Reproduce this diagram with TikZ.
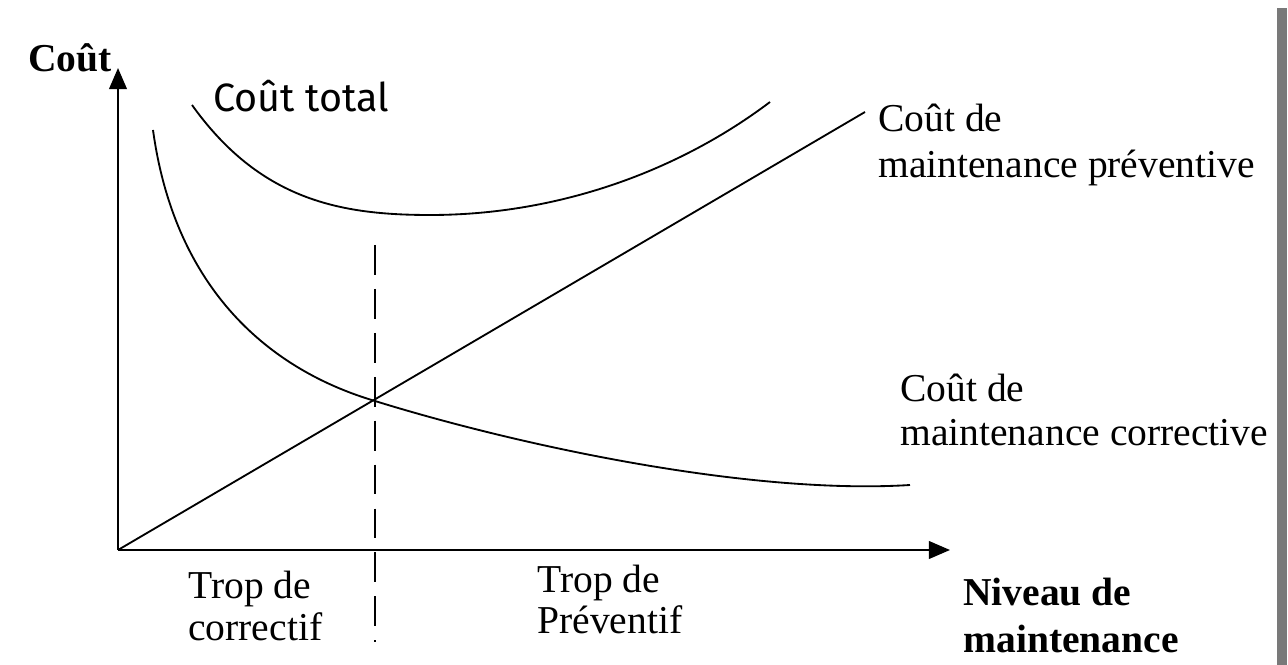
\documentclass[tikz,border=0pt]{standalone}
\usepackage{fontspec}
\setmainfont{Liberation Serif}
\newfontfamily\handfont{Fira Sans}
\usetikzlibrary{arrows.meta}
\begin{document}
\begin{tikzpicture}[x=0.02cm,y=-0.02cm,
  axis/.style={line width=1.3pt, -{Triangle[length=12pt,width=10pt]}},
  curve/.style={line width=1.05pt},
  lbl/.style={align=left, inner sep=0pt, anchor=base west},
  boldlbl/.style={lbl, font=\bfseries}]
\useasboundingbox (0,0) rectangle (1288,665);
\fill[gray!95!black] (1277,8) rectangle (1287,665);
% axes
\coordinate (O) at (118,550);
\coordinate (ytop) at (118,68);
\coordinate (xend) at (950,550);
\draw[axis] (O) -- (ytop);
\draw[axis] (O) -- (xend);
\node[boldlbl, font=\fontsize{22.5}{26}\selectfont\bfseries] (cout) at (28,72) {Coût};
\node[boldlbl, font=\fontsize{22.5}{26.7}\selectfont\bfseries] (niveau) at (963,652) {Niveau de\\maintenance};
% curves
\coordinate (prevend) at (865,112);
\coordinate (cross) at (375,401);
\draw[curve] (O) -- (prevend);
\draw[curve] (153,130) .. controls (175,290) and (270,370) .. (cross)
  .. controls (520,446) and (750,495) .. (910,485);
\draw[curve] (192,105) .. controls (260,200) and (340,215) .. (430,215)
  .. controls (560,215) and (680,170) .. (770,102);
\draw[line width=1.1pt, dash pattern=on 17pt off 8pt] (375,245) -- (375,642);
% labels
\node[lbl, font=\fontsize{22.5}{26}\selectfont\handfont] (total) at (213,112) {Coût total};
\node[lbl, font=\fontsize{22.5}{26.2}\selectfont] (prev) at (878,178) {Coût de\\maintenance préventive};
\node[lbl, font=\fontsize{22.5}{24.5}\selectfont] (corr) at (900,445) {Coût de\\maintenance corrective};
\node[lbl, font=\fontsize{22.5}{23.9}\selectfont] (trcorr) at (188,640) {Trop de\\correctif};
\node[lbl, font=\fontsize{22.5}{23.3}\selectfont] (trprev) at (537,633) {Trop de\\Préventif};
\end{tikzpicture}
\end{document}
